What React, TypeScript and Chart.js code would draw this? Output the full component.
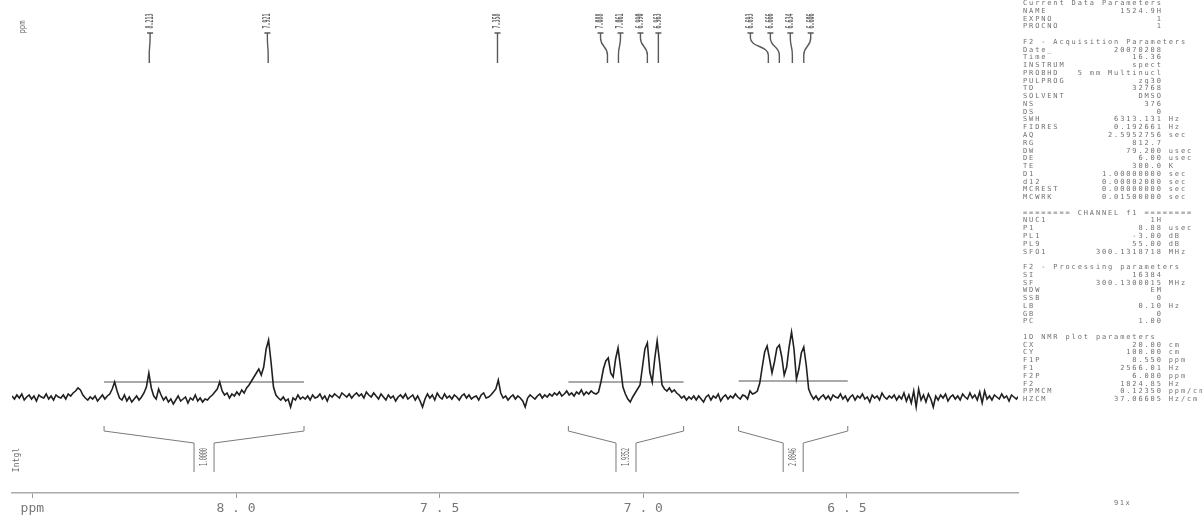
import React, { useEffect, useRef } from 'react';
import { Chart, registerables } from 'chart.js';

Chart.register(...registerables);

// ---- spectrum (1H NMR, ppm axis runs from F1P down to F2P) ----
const F1P = 8.55;
const F2P = 6.08;
const STEP = 0.006; // digital spacing of the plotted points (ppm)

// intensity above baseline, one value per STEP starting at F1P
const INTENSITY: number[] = [
  1, -2, 2, -1, 3, -3, 0, 2, -2, 1, -4, 2, 0, -1, 3, -2, 1, -3, 2, 0,
  -1, 2, -2, 3, 1, 4, 6, 9, 7, 2, -1, -3, 0, -2, 1, -4, -1, 2, -2, 1,
  3, 8, 15, 6, -1, -3, 2, -4, 0, -5, -2, 1, -3, 0, 4, 10, 24, 9, 1, -2,
  8, 2, -3, 0, -5, -2, -7, -3, 1, -4, -2, 0, -6, -1, -3, 2, -4, -1, -5, -2,
  -3, 0, 2, 5, 8, 15, 6, 2, 4, -1, 3, 1, 5, 2, 7, 4, 9, 12, 16, 20,
  24, 28, 22, 30, 48, 57, 35, 10, 2, -1, -3, 0, -4, -2, -10, -1, -3, 2, -2, 0,
  -2, 1, -3, 2, -1, 0, 3, -2, 1, -4, 2, 0, 3, 1, -1, 4, 2, 0, 3, -1,
  2, 4, 1, 3, -1, 5, 2, 0, 4, 1, -2, 3, 0, -3, 2, -1, 1, -4, 0, 2,
  -1, 3, -2, 0, 2, -3, 1, -4, -10, -2, 3, -1, 2, -3, 4, 0, -2, 3, -1, 1,
  -2, 2, 0, -3, 1, 3, -1, 2, -2, 0, 1, -3, 2, 4, -1, 0, 2, 5, 8, 17,
  4, -1, 1, -3, 0, 2, -2, 1, -1, -4, -10, -1, 2, 0, -2, 1, 3, -1, 2, 0,
  3, 1, 4, 2, 5, 1, 3, 6, 2, 4, 1, 5, 3, 7, 2, 5, 3, 6, 4, 3,
  5, 15, 28, 36, 39, 24, 20, 38, 49, 30, 10, 3, -2, -5, 0, 4, 8, 12, 30, 48,
  54, 25, 15, 38, 56, 35, 12, 8, 6, 9, 5, 7, 4, 2, -1, 1, -3, 0, -2, 1,
  -3, 1, -2, -5, 0, 2, -3, 1, -1, 3, -4, 0, 2, -2, 1, -1, 3, 0, -2, 2,
  1, -2, 6, 3, 4, 6, 14, 30, 45, 51, 38, 24, 35, 49, 52, 40, 22, 30, 50, 65,
  48, 18, 28, 44, 50, 32, 8, 2, -2, 1, -3, 0, 2, -2, 1, -3, 2, 0, -1, 3,
  -2, 1, -4, 0, 2, -3, 1, -1, 3, -2, 0, -5, 2, -1, 1, -3, 4, 0, -2, 1,
  -1, 2, -3, 1, -2, 4, -4, 2, -6, 6, -10, 8, -3, 2, -5, 3, -2, -10, 1, -3,
  2, -1, 3, -4, 0, 2, -2, 1, -3, 3, 0, -2, 4, -1, 2, -3, 5, -6, 6, -2,
  1, -3, 2, 0, -2, 3, -1, 1, -4, 2, 0, -2, 1,
];

const Y_MIN = -96;
const Y_MAX = 397;

// ---- axis ----
const X_TICKS = [8.5, 8.0, 7.5, 7.0, 6.5];
const X_TICK_LABELS = ['ppm', '8 . 0', '7 . 5', '7 . 0', '6 . 5'];

// ---- peak picking ----
const PEAK_PPM = [8.213, 7.921, 7.358, 7.088, 7.061, 6.99, 6.963, 6.693, 6.666, 6.634, 6.606];
const PEAK_LABEL_PPM = [8.211, 7.923, 7.358, 7.105, 7.056, 7.007, 6.963, 6.737, 6.688, 6.639, 6.589];

// ---- integrals ----
const INTEGRAL_FROM = [8.324, 7.184, 6.766];
const INTEGRAL_TO = [7.833, 6.901, 6.498];
const INTEGRAL_LEVEL = [15, 15, 16];
const INTEGRAL_VALUES = ['1.0000', '1.9352', '2.0846'];

// ---- parameter block ----
const PARAMS: string[][] = [
  ['Current Data Parameters'],
  ['NAME', '1524.9H'],
  ['EXPNO', '1'],
  ['PROCNO', '1'],
  [],
  ['F2 - Acquisition Parameters'],
  ['Date_', '20070208'],
  ['Time', '16.36'],
  ['INSTRUM', 'spect'],
  ['PROBHD', '5 mm Multinucl'],
  ['PULPROG', 'zg30'],
  ['TD', '32768'],
  ['SOLVENT', 'DMSO'],
  ['NS', '376'],
  ['DS', '0'],
  ['SWH', '6313.131', 'Hz'],
  ['FIDRES', '0.192661', 'Hz'],
  ['AQ', '2.5952756', 'sec'],
  ['RG', '812.7'],
  ['DW', '79.200', 'usec'],
  ['DE', '6.00', 'usec'],
  ['TE', '300.0', 'K'],
  ['D1', '1.00000000', 'sec'],
  ['d12', '0.00002000', 'sec'],
  ['MCREST', '0.00000000', 'sec'],
  ['MCWRK', '0.01500000', 'sec'],
  [],
  ['======== CHANNEL f1 ========'],
  ['NUC1', '1H'],
  ['P1', '8.88', 'usec'],
  ['PL1', '-3.00', 'dB'],
  ['PL9', '55.00', 'dB'],
  ['SFO1', '300.1318718', 'MHz'],
  [],
  ['F2 - Processing parameters'],
  ['SI', '16384'],
  ['SF', '300.1300015', 'MHz'],
  ['WDW', 'EM'],
  ['SSB', '0'],
  ['LB', '0.10', 'Hz'],
  ['GB', '0'],
  ['PC', '1.00'],
  [],
  ['1D NMR plot parameters'],
  ['CX', '20.00', 'cm'],
  ['CY', '100.00', 'cm'],
  ['F1P', '8.550', 'ppm'],
  ['F1', '2566.01', 'Hz'],
  ['F2P', '6.080', 'ppm'],
  ['F2', '1824.85', 'Hz'],
  ['PPMCM', '0.12350', 'ppm/cm'],
  ['HZCM', '37.06605', 'Hz/cm'],
];

function fmtLine(l: string[]): string {
  if (l.length === 0) return ' ';
  if (l.length === 1) return l[0];
  const [k, v, u] = l;
  const valEnd = 23;
  let s = k.padEnd(Math.max(k.length + 1, valEnd - v.length), ' ') + v;
  if (u) s += ' ' + u;
  return s;
}

const LABEL_FONT = '11px "DejaVu Sans Mono"';
const INK = '#707070';

function rotatedText(ctx: CanvasRenderingContext2D, text: string, x: number, y: number, sx: number, font: string) {
  ctx.save();
  ctx.translate(x, y);
  ctx.rotate(-Math.PI / 2);
  ctx.scale(sx, 1);
  ctx.font = font;
  ctx.textAlign = 'center';
  ctx.textBaseline = 'middle';
  ctx.fillText(text, 0, 0);
  ctx.restore();
}

const overlay = {
  id: 'nmrOverlay',
  afterDatasetsDraw(chart: any) {
    const { ctx } = chart;
    const xs = chart.scales.x;
    ctx.save();
    ctx.fillStyle = '#666';

    // peak labels + leader lines
    ctx.strokeStyle = '#5a5a5a';
    ctx.lineWidth = 1.4;
    PEAK_PPM.forEach((p, i) => {
      const px = xs.getPixelForValue(p);
      const lx = xs.getPixelForValue(PEAK_LABEL_PPM[i]);
      ctx.beginPath();
      ctx.moveTo(lx - 3, 33);
      ctx.lineTo(lx + 3, 33);
      ctx.moveTo(lx, 33);
      ctx.lineTo(lx, 38);
      ctx.bezierCurveTo(lx, 47, px, 46, px, 55);
      ctx.lineTo(px, 63);
      ctx.stroke();
      rotatedText(ctx, p.toFixed(3), lx, 21, 0.45, 'bold ' + LABEL_FONT);
    });
    rotatedText(ctx, 'ppm', 23, 27, 0.8, '9px "DejaVu Sans Mono"');

    // integral brackets
    ctx.strokeStyle = '#7a7a7a';
    ctx.lineWidth = 1;
    INTEGRAL_FROM.forEach((f, i) => {
      const a = xs.getPixelForValue(f);
      const b = xs.getPixelForValue(INTEGRAL_TO[i]);
      const c = (a + b) / 2;
      ctx.beginPath();
      ctx.moveTo(a, 426);
      ctx.lineTo(a, 431);
      ctx.lineTo(c - 10, 443);
      ctx.lineTo(c - 10, 472);
      ctx.moveTo(b, 426);
      ctx.lineTo(b, 431);
      ctx.lineTo(c + 10, 443);
      ctx.lineTo(c + 10, 472);
      ctx.stroke();
      rotatedText(ctx, INTEGRAL_VALUES[i], c, 457, 0.45, LABEL_FONT);
    });
    rotatedText(ctx, 'Intgl', 17, 460, 0.9, '9px "DejaVu Sans Mono"');
    ctx.restore();
  },
};

export default function App() {
  const ref = useRef<HTMLCanvasElement>(null);

  useEffect(() => {
    const canvas = ref.current!;
    const spectrum = INTENSITY.map((v, i) => ({ x: +(F1P - i * STEP).toFixed(4), y: v }));
    const integralSets = INTEGRAL_FROM.map((f, i) => ({
      data: [
        { x: f, y: INTEGRAL_LEVEL[i] },
        { x: INTEGRAL_TO[i], y: INTEGRAL_LEVEL[i] },
      ],
      borderColor: '#555',
      borderWidth: 1,
      pointRadius: 0,
    }));
    const chart = new Chart(canvas, {
      type: 'line',
      data: {
        datasets: [
          {
            data: spectrum,
            borderColor: '#202020',
            borderWidth: 1.6,
            pointRadius: 0,
            tension: 0,
          },
          ...integralSets,
        ],
      },
      options: {
        animation: false,
        responsive: false,
        devicePixelRatio: 1,
        layout: { padding: { left: 12, right: 184, top: 0, bottom: 0 } },
        plugins: { legend: { display: false }, tooltip: { enabled: false } },
        scales: {
          x: {
            type: 'linear',
            reverse: true,
            min: F2P,
            max: F1P,
            afterBuildTicks: (s: any) => {
              s.ticks = X_TICKS.map((v) => ({ value: v }));
            },
            afterFit: (s: any) => {
              s.height = 22;
            },
            ticks: {
              callback: (_v: any, idx: number) => X_TICK_LABELS[idx],
              color: '#777',
              font: { family: 'DejaVu Sans Mono', size: 13 },
              maxRotation: 0,
              autoSkip: false,
              padding: 3,
            },
            grid: { drawOnChartArea: false, drawTicks: true, tickLength: 5, color: '#999', lineWidth: 1 },
            border: { display: true, color: '#aaa', width: 1.5 },
          },
          y: { display: false, min: Y_MIN, max: Y_MAX },
        },
      },
      plugins: [overlay],
    } as any);
    return () => chart.destroy();
  }, []);

  return (
    <div style={{ position: 'fixed', left: 0, top: 0, width: 1202, height: 515, background: '#fff', overflow: 'hidden' }}>
      <canvas ref={ref} width={1202} height={515} style={{ position: 'absolute', left: 0, top: 0, width: 1202, height: 515 }} />
      <div
        style={{
          position: 'absolute',
          left: 1023,
          top: 0,
          fontFamily: '"DejaVu Sans Mono", monospace',
          fontSize: '7px',
          letterSpacing: '1.86px',
          lineHeight: '7.77px',
          color: INK,
          whiteSpace: 'pre',
        }}
      >
        {PARAMS.map((l, i) => (
          <div key={i} style={{ height: '7.77px' }}>{fmtLine(l)}</div>
        ))}
      </div>
      <div
        style={{
          position: 'absolute',
          left: 1114,
          top: 499,
          fontFamily: '"DejaVu Sans Mono", monospace',
          fontSize: '7px',
          letterSpacing: '1.5px',
          color: INK,
          whiteSpace: 'pre',
        }}
      >
        91x
      </div>
    </div>
  );
}
